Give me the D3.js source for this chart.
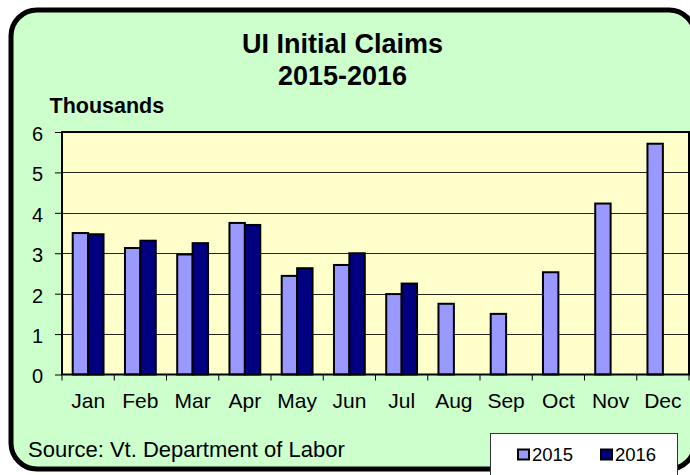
<!DOCTYPE html>
<html>
<head>
<meta charset="utf-8">
<script src="https://cdn.jsdelivr.net/npm/d3@7"></script>
<style>
  body { margin: 0; background: #fff; }
  svg { display: block; font-family: Arial, "Liberation Sans", sans-serif; }
</style>
</head>
<body>
<div id="chart"></div>
<script>
// Chart data
const months = ["Jan", "Feb", "Mar", "Apr", "May", "Jun", "Jul", "Aug", "Sep", "Oct", "Nov", "Dec"];
const years = ["2015", "2016"];
const claims2015 = [3.50, 3.13, 2.97, 3.75, 2.44, 2.71, 1.99, 1.75, 1.50, 2.53, 4.23, 5.71];
const claims2016 = [3.47, 3.31, 3.25, 3.70, 2.63, 3.00, 2.25, null, null, null, null, null];
const yTicks = [0, 1, 2, 3, 4, 5, 6];

const width = 690, height = 475;
const marginLeft = 62, marginRight = 1, marginTop = 132, plotBottom = 374.5;
const font = "Arial, 'Liberation Sans', sans-serif";

const rows = months.map((m, i) => ({ month: m, "2015": claims2015[i], "2016": claims2016[i] }));

const svg = d3.select("#chart").append("svg")
    .attr("width", width)
    .attr("height", height);

// Outer rounded frame
svg.append("rect")
    .attr("x", 11).attr("y", 10)
    .attr("width", 684).attr("height", 459)
    .attr("rx", 26).attr("ry", 26)
    .attr("fill", "#CCFFCC")
    .attr("stroke", "#000")
    .attr("stroke-width", 5);

// Title
svg.append("text")
    .attr("x", 342.5).attr("y", 53)
    .attr("text-anchor", "middle")
    .attr("font-size", 27).attr("font-weight", "bold")
    .text("UI Initial Claims");
svg.append("text")
    .attr("x", 342.5).attr("y", 85)
    .attr("text-anchor", "middle")
    .attr("font-size", 27).attr("font-weight", "bold")
    .text("2015-2016");
svg.append("text")
    .attr("x", 49.5).attr("y", 113)
    .attr("font-size", 21.5).attr("font-weight", "bold")
    .text("Thousands");

// Scales
const x = d3.scaleBand()
    .domain(months)
    .range([marginLeft, width - marginRight])
    .paddingInner(0.41)
    .paddingOuter(0.205);

const xCat = d3.scaleBand()
    .domain(months)
    .range([marginLeft, width - marginRight]);

const xSub = d3.scaleBand()
    .domain(years)
    .range([0, x.bandwidth()]);

const y = d3.scaleLinear()
    .domain([0, 6])
    .range([plotBottom, marginTop]);

const color = d3.scaleOrdinal()
    .domain(years)
    .range(["#9999FF", "#000080"]);

// Plot area
svg.append("rect")
    .attr("x", marginLeft).attr("y", marginTop)
    .attr("width", width - marginRight - marginLeft)
    .attr("height", plotBottom - marginTop)
    .attr("fill", "#FFFFCC");

// Gridlines
svg.append("g")
    .selectAll("line")
    .data(yTicks.slice(1, -1))
    .join("line")
      .attr("x1", marginLeft).attr("x2", width - marginRight)
      .attr("y1", d => Math.round(y(d)) + 0.5).attr("y2", d => Math.round(y(d)) + 0.5)
      .attr("stroke", "#000")
      .attr("stroke-opacity", 0.85);

// Bars
svg.append("g")
  .selectAll("g")
  .data(rows)
  .join("g")
    .attr("transform", d => `translate(${x(d.month)},0)`)
  .selectAll("rect")
  .data(d => years.filter(k => d[k] != null).map(k => ({ key: k, value: d[k] })))
  .join("rect")
    .attr("x", d => xSub(d.key))
    .attr("y", d => y(d.value))
    .attr("width", xSub.bandwidth())
    .attr("height", d => plotBottom - y(d.value))
    .attr("fill", d => color(d.key))
    .attr("stroke", "#000")
    .attr("stroke-width", 2);

// Plot border
svg.append("rect")
    .attr("x", marginLeft).attr("y", marginTop)
    .attr("width", width - marginRight - marginLeft)
    .attr("height", plotBottom - marginTop)
    .attr("fill", "none")
    .attr("stroke", "#000")
    .attr("stroke-width", 2);

// Y axis
svg.append("g")
    .attr("transform", `translate(${marginLeft},0)`)
    .call(d3.axisLeft(y).tickValues(yTicks).tickSize(7).tickPadding(12).tickFormat(d3.format("d")))
    .call(g => g.select(".domain").remove())
    .call(g => g.selectAll(".tick line").attr("stroke", "#000"))
    .call(g => g.selectAll(".tick text")
        .attr("font-size", 20)
        .attr("font-family", font)
        .attr("dy", "0.42em")
        .attr("fill", "#000"));

// X axis: ticks at category boundaries
const boundaries = months.map(m => xCat(m)).concat([width - marginRight]);
svg.append("g")
    .selectAll("line")
    .data(boundaries)
    .join("line")
      .attr("x1", d => d).attr("x2", d => d)
      .attr("y1", plotBottom).attr("y2", plotBottom + 6)
      .attr("stroke", "#000");

svg.append("g")
    .attr("transform", `translate(0,${plotBottom})`)
    .call(d3.axisBottom(xCat).tickSize(0).tickPadding(18.5))
    .call(g => g.select(".domain").remove())
    .call(g => g.selectAll(".tick text")
        .attr("font-size", 21)
        .attr("font-family", font)
        .attr("fill", "#000"));

// Source
svg.append("text")
    .attr("x", 28).attr("y", 457)
    .attr("font-size", 22)
    .text("Source: Vt. Department of Labor");

// Legend
const legend = svg.append("g");
legend.append("rect")
    .attr("x", 490.5).attr("y", 433.5)
    .attr("width", 187).attr("height", 50)
    .attr("fill", "#fff")
    .attr("stroke", "#333")
    .attr("stroke-width", 1);
const legendX = [517, 600];
years.forEach((k, i) => {
  legend.append("rect")
      .attr("x", legendX[i] + 1).attr("y", 449.5)
      .attr("width", 11).attr("height", 10)
      .attr("fill", color(k))
      .attr("stroke", "#000")
      .attr("stroke-width", 2);
  legend.append("text")
      .attr("x", legendX[i] + 15).attr("y", 461)
      .attr("font-size", 18.5)
      .text(k);
});
</script>
</body>
</html>
